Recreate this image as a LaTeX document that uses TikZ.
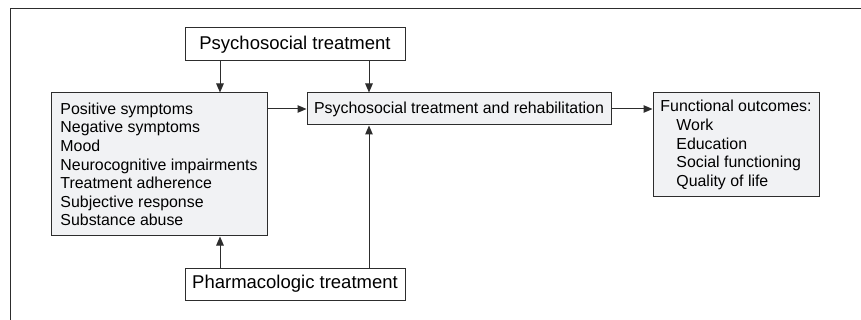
\documentclass[tikz,border=0pt]{standalone}
\usepackage{fontspec}
\setmainfont{Liberation Sans}
\usetikzlibrary{arrows.meta}
\definecolor{boxfill}{RGB}{241,242,244}
\definecolor{edge}{RGB}{45,45,45}
\begin{document}
\begin{tikzpicture}[x=1pt,y=-1pt,
  box/.style={draw=edge,line width=1pt,rectangle,inner sep=0pt},
  bigtext/.style={font=\fontsize{18.5}{22}\selectfont},
  smalltext/.style={font=\fontsize{15.9}{18.6}\selectfont},
  arr/.style={draw=edge,line width=1pt,-{Triangle[length=9pt,width=7.5pt]}}]
\useasboundingbox (0,0) rectangle (861,320);
\draw[edge,line width=1pt] (861,9) -- (10,9) -- (10,320);
\node[box,bigtext,fill=white,minimum width=220pt,minimum height=33pt] (top) at (295,44.5) {Psychosocial treatment};
\node[box,bigtext,fill=white,minimum width=220pt,minimum height=32pt] (pharm) at (295,284) {Pharmacologic treatment};
\node[box,smalltext,fill=boxfill,minimum width=216pt,minimum height=143pt,align=left] (left) at (159,164.5)
 {Positive symptoms\\Negative symptoms\\Mood\\Neurocognitive impairments\\Treatment adherence\\Subjective response\\Substance abuse};
\node[box,smalltext,fill=boxfill,minimum width=304pt,minimum height=32pt] (mid) at (459,109) {Psychosocial treatment and rehabilitation};
\node[box,smalltext,fill=boxfill,minimum width=166pt,minimum height=104pt,align=left] (right) at (736,145)
 {Functional outcomes:\\\hspace*{16pt}Work\\\hspace*{16pt}Education\\\hspace*{16pt}Social functioning\\\hspace*{16pt}Quality of life};
\coordinate (ax1) at (220,0);
\coordinate (ax2) at (369,0);
\draw[arr] (top.south -| ax1) -- (left.north -| ax1);
\draw[arr] (top.south -| ax2) -- (mid.north -| ax2);
\draw[arr] (pharm.north -| ax1) -- (left.south -| ax1);
\draw[arr] (pharm.north -| ax2) -- (mid.south -| ax2);
\draw[arr] (left.east |- mid.west) -- (mid.west);
\draw[arr] (mid.east) -- (right.west |- mid.east);
\end{tikzpicture}
\end{document}
